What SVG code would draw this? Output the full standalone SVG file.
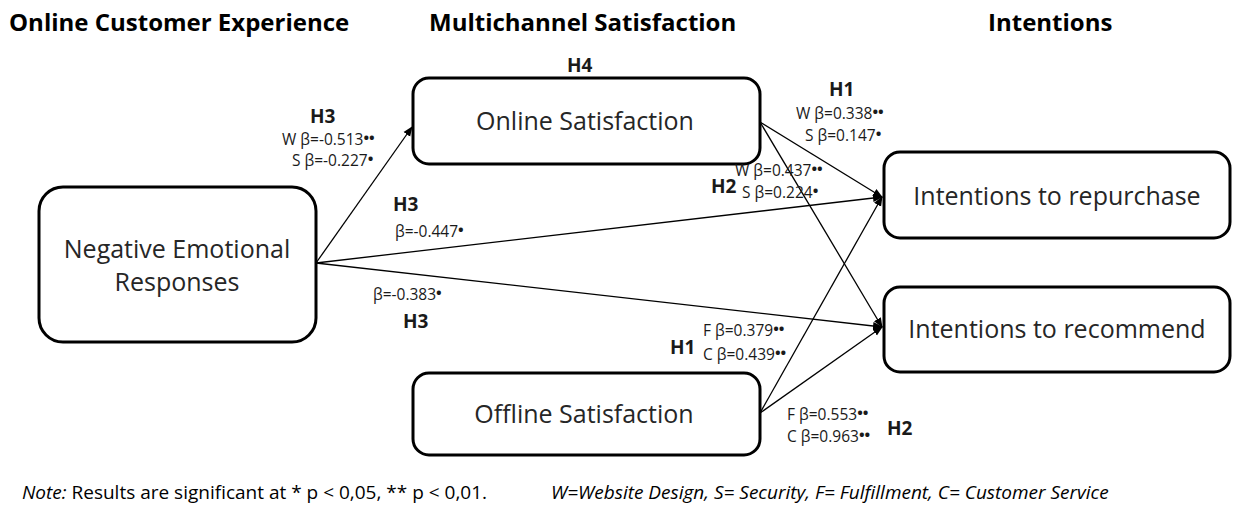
<svg xmlns="http://www.w3.org/2000/svg" width="1233" height="512" viewBox="0 0 1233 512">
  <style>
    .box { fill: #fff; stroke: #000; stroke-width: 3; }
    .lbl { font-family: "Open Sans", "Liberation Sans", sans-serif; font-size: 25px; fill: #262626; text-anchor: middle; }
    .hdr { font-family: "Open Sans", "Liberation Sans", sans-serif; font-size: 24px; font-weight: bold; fill: #000; }
    .hyp { font-family: "Open Sans", "Liberation Sans", sans-serif; font-size: 19px; font-weight: bold; fill: #1a1a1a; }
    .coef { font-family: "Open Sans", "Liberation Sans", sans-serif; font-size: 15.5px; fill: #1a1a1a; }
    .sig { font-size: 15px; font-weight: bold; }
    .note { font-family: "Open Sans", "Liberation Sans", sans-serif; font-size: 19px; fill: #000; }
    .it { font-style: italic; }
    .edge { fill: none; stroke: #000; stroke-width: 1.3; marker-end: url(#arrow); }
  </style>
  <defs>
    <marker id="arrow" markerUnits="userSpaceOnUse" markerWidth="10" markerHeight="10" viewBox="0 0 10 10" refX="9" refY="5" orient="auto">
      <path d="M0,1 L10,5 L0,9 Z" fill="#000"/>
    </marker>
  </defs>

  <rect width="1233" height="512" fill="#fff"/>

  <!-- column headings -->
  <g id="headings">
    <text class="hdr" x="9" y="31">Online Customer Experience</text>
    <text class="hdr" x="429" y="31">Multichannel Satisfaction</text>
    <text class="hdr" x="988" y="31">Intentions</text>
  </g>

  <!-- connectors -->
  <g id="connectors">
    <line class="edge" x1="316" y1="263" x2="412" y2="127"/>
    <line class="edge" x1="316" y1="263" x2="882" y2="197"/>
    <line class="edge" x1="316" y1="263" x2="882" y2="327"/>
    <line class="edge" x1="760" y1="122" x2="882" y2="197"/>
    <line class="edge" x1="760" y1="122" x2="882" y2="327"/>
    <line class="edge" x1="760" y1="413" x2="882" y2="197"/>
    <line class="edge" x1="760" y1="413" x2="882" y2="327"/>
  </g>

  <!-- nodes -->
  <g id="negative-emotional-responses">
    <rect class="box" x="39" y="187" width="277" height="155" rx="24"/>
    <text class="lbl" x="177" y="258">Negative Emotional</text>
    <text class="lbl" x="177" y="291">Responses</text>
  </g>
  <g id="online-satisfaction">
    <rect class="box" x="413" y="78" width="347" height="86" rx="16"/>
    <text class="lbl" x="585" y="130">Online Satisfaction</text>
  </g>
  <g id="offline-satisfaction">
    <rect class="box" x="413" y="373" width="347" height="82" rx="16"/>
    <text class="lbl" x="584" y="423">Offline Satisfaction</text>
  </g>
  <g id="intentions-repurchase">
    <rect class="box" x="884" y="152" width="346" height="86" rx="16"/>
    <text class="lbl" x="1057" y="205">Intentions to repurchase</text>
  </g>
  <g id="intentions-recommend">
    <rect class="box" x="884" y="287" width="346" height="85" rx="16"/>
    <text class="lbl" x="1057" y="338">Intentions to recommend</text>
  </g>

  <!-- path labels -->
  <g id="labels">
    <text class="hyp" x="567" y="72">H4</text>

    <text class="hyp" x="310" y="123">H3</text>
    <text class="coef" x="282" y="145">W β=-0.513<tspan class="sig" dy="-2">••</tspan></text>
    <text class="coef" x="292" y="166">S β=-0.227<tspan class="sig" dy="-2">•</tspan></text>

    <text class="hyp" x="393" y="211">H3</text>
    <text class="coef" x="395" y="237">β=-0.447<tspan class="sig" dy="-2">•</tspan></text>
    <text class="coef" x="373" y="300">β=-0.383<tspan class="sig" dy="-2">•</tspan></text>
    <text class="hyp" x="403" y="328">H3</text>

    <text class="hyp" x="829" y="96">H1</text>
    <text class="coef" x="796" y="119">W β=0.338<tspan class="sig" dy="-2">••</tspan></text>
    <text class="coef" x="805" y="141">S β=0.147<tspan class="sig" dy="-2">•</tspan></text>

    <text class="coef" x="735" y="176">W β=0.437<tspan class="sig" dy="-2">••</tspan></text>
    <text class="hyp" x="711" y="193">H2</text>
    <text class="coef" x="742" y="198">S β=0.224<tspan class="sig" dy="-2">•</tspan></text>

    <text class="coef" x="703" y="336">F β=0.379<tspan class="sig" dy="-2">••</tspan></text>
    <text class="hyp" x="670" y="354">H1</text>
    <text class="coef" x="703" y="360">C β=0.439<tspan class="sig" dy="-2">••</tspan></text>

    <text class="coef" x="787" y="420">F β=0.553<tspan class="sig" dy="-2">••</tspan></text>
    <text class="coef" x="787" y="442">C β=0.963<tspan class="sig" dy="-2">••</tspan></text>
    <text class="hyp" x="887" y="435">H2</text>
  </g>

  <!-- footnote -->
  <g id="note">
    <text class="note" x="22" y="499"><tspan class="it">Note:</tspan> Results are significant at * p &lt; 0,05, ** p &lt; 0,01.<tspan class="it" x="551">W=Website Design, S= Security, F= Fulfillment, C= Customer Service</tspan></text>
  </g>
</svg>
